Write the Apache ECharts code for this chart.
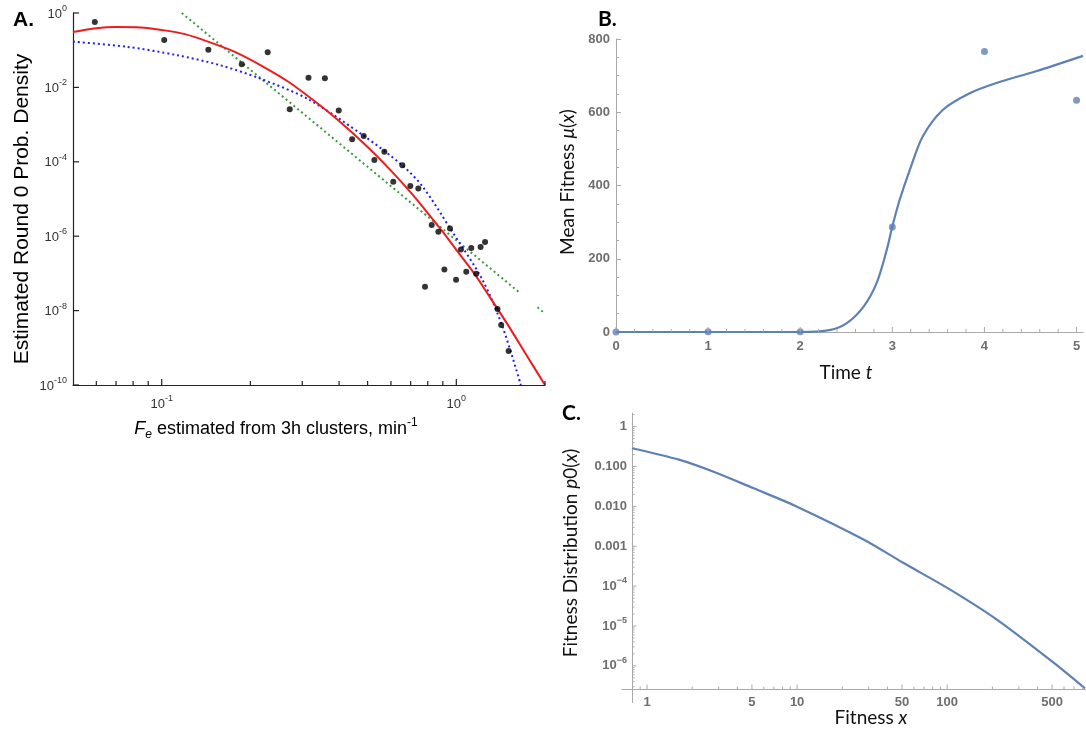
<!DOCTYPE html>
<html><head><meta charset="utf-8">
<script src="https://cdn.jsdelivr.net/npm/echarts@6.0.0/dist/echarts.min.js"></script>
<style>html,body{margin:0;padding:0;background:#fff}#c{width:1086px;height:731px}</style>
</head><body><div id="c"></div>
<script>
// ---------- Panel A data ----------
const A_POINT_X = [0.0593,0.102,0.144,0.187,0.229,0.272,0.315,0.358,0.399,0.443,0.485,0.527,0.570,0.611,0.656,0.698,0.743,0.825,0.869,0.952,1.037,1.124,1.209,1.252,0.911,1.081,1.168,0.998,0.783,1.38,1.42,1.505];
const A_POINT_Y = [0.57,0.188,0.103,0.0417,0.0877,0.00258,0.0182,0.0175,0.00240,4.05e-4,4.97e-4,1.12e-4,1.85e-4,2.9e-5,8.1e-5,2.25e-5,1.92e-5,2.0e-6,1.32e-6,1.62e-6,4.4e-7,4.8e-7,5.1e-7,7.0e-7,1.28e-7,1.11e-7,9.8e-8,6.8e-8,4.35e-8,1.11e-8,4.1e-9,8.2e-10];
const A_RED_X = [0.05,0.06,0.07,0.085,0.1,0.12,0.15,0.18,0.22,0.27,0.33,0.4,0.5,0.6,0.7,0.8,0.9,1.0,1.15,1.3,1.5,1.75,2.0];
const A_RED_Y = [0.31,0.39,0.42,0.41,0.35,0.27,0.15,0.085,0.037,0.014,4.3e-3,1.25e-3,2.5e-4,5.8e-5,1.5e-5,4.2e-6,1.3e-6,4.3e-7,1.0e-7,2.3e-8,4.0e-9,5.5e-10,1.0e-10];
const A_BLUE_X = [0.05,0.0759,0.112,0.157,0.215,0.313,0.485,0.656,0.769,0.954,1.228,1.435,1.656];
const A_BLUE_Y = [0.17,0.124,0.0743,0.04,0.0175,4.9e-3,5.0e-4,8.0e-5,2.14e-5,1.6e-6,6.6e-8,3.7e-9,1.0e-10];
const A_GREEN1_X = [0.117,1.635];
const A_GREEN1_Y = [1.0,3.1e-8];
const A_GREEN2_X = [1.886,2.0];
const A_GREEN2_Y = [1.23e-8,8.3e-9];
const A_X_MAJOR = [0.1,1];
const A_X_MINOR = [0.06,0.07,0.08,0.09,0.2,0.3,0.4,0.5,0.6,0.7,0.8,0.9,2];
const A_Y_MAJOR = [1,1e-2,1e-4,1e-6,1e-8,1e-10];
const A_Y_LABEL_EXP = [0,-2,-4,-6,-8,-10];

// ---------- Panel B data ----------
const B_T = [0,1,2,3,4,5];
const B_MU = [0,1,1,287,766,633];
const B_CURVE_T = [0,1,1.99,2.33,2.51,2.69,2.83,2.94,3.0,3.08,3.19,3.33,3.55,3.84,4.13,4.56,5.07];
const B_CURVE_MU = [0,0,0,6,25,70,134,225,288,361,443,534,607,652,680,712,754];
const B_X_LABELS = [0,1,2,3,4,5];

// ---------- Panel C data ----------
const C_X = [0.794,1.65,2.75,5.09,9.9,27.5,50.9,104,213,509,828];
const C_Y = [0.288,0.147,0.075,0.0288,0.01,0.0015,3.85e-4,8.3e-5,1.47e-5,1.22e-6,2.72e-7];
const C_X_LABELS = [1,5,10,50,100,500];
const C_X_MINOR = [0.8,0.9,2,3,4,6,7,8,9,20,30,40,60,70,80,90,200,300,400,600,700,800];
const C_Y_MAJOR = [1,0.1,0.01,0.001,1e-4,1e-5,1e-6];

// ---------- ranges ----------
const A_XMIN = 0.05, A_XMAX = 2, A_YMIN = 1e-10, A_YMAX = 1;
const B_XMIN = 0, B_XMAX = 5.07, B_YMIN = 0, B_YMAX = 800;
const C_XMIN = 0.794, C_XMAX = 841, C_YMIN = 2.63e-7, C_YMAX = 2.2;

const fA = '"Liberation Sans", Arial, sans-serif';
const fB = 'Lato, "Open Sans", sans-serif';
const fNum = '"Liberation Sans", Arial, sans-serif';
const grayAxis = '#a9a9a9';
const grayLabel = '#6e6e6e';
const blueM = '#5e81b5';

function zip(xs, ys){ return xs.map((x,i)=>[x, ys[i]]); }
function exp10(v){ const e = Math.log10(v); const r = Math.round(e); return Math.abs(e-r) < 1e-6 ? r : null; }

const B_X_MINOR = [];
for (let i = 1; i <= 25; i++) { const v = +(i*0.2).toFixed(1); if (Math.abs(v - Math.round(v)) > 1e-9 && v < B_XMAX) B_X_MINOR.push(v); }
const C_Y_MINOR = [];
for (let k = -7; k <= 0; k++) for (let m = 2; m <= 9; m++) { const v = m*Math.pow(10,k); if (v > C_YMIN && v < C_YMAX) C_Y_MINOR.push(v); }

function tickSeries(gi, dir, vals, anchor, len, color, width){
  return {
    type: 'custom', xAxisIndex: gi, yAxisIndex: gi, silent: true, clip: false, z: 6, animation: false,
    data: vals.map(v => dir === 'x' ? [v, anchor] : [anchor, v]),
    renderItem: (params, api) => {
      const p = api.coord([api.value(0), api.value(1)]);
      const shape = dir === 'x'
        ? {x1: p[0], y1: p[1], x2: p[0], y2: p[1] - len}
        : {x1: p[0], y1: p[1], x2: p[0] + len, y2: p[1]};
      return {type: 'line', shape: shape, style: {stroke: color, lineWidth: width}};
    }
  };
}

const chart = echarts.init(document.getElementById('c'), null, {renderer: 'canvas'});

const supRichA = {
  b: {fontSize: 13, fontFamily: fA, color: '#333', lineHeight: 20},
  s: {fontSize: 9, fontFamily: fA, color: '#333', verticalAlign: 'top'}
};
const supRichC = {
  b: {fontSize: 13, fontFamily: fNum, fontWeight: 'bold', color: grayLabel, lineHeight: 20},
  s: {fontSize: 9, fontFamily: fNum, fontWeight: 'bold', color: grayLabel, verticalAlign: 'top'}
};

const option = {
  animation: false,
  backgroundColor: '#fff',
  grid: [
    {left: 73, top: 13, width: 472, height: 372},
    {left: 616, top: 39, width: 470, height: 293},
    {left: 632, top: 413, width: 454, height: 276}
  ],
  xAxis: [
    {gridIndex: 0, type: 'log', logBase: 10, min: A_XMIN, max: A_XMAX,
     axisLine: {lineStyle: {color: '#222', width: 1.2}}, axisTick: {show: false}, splitLine: {show: false},
     axisLabel: {margin: 9, formatter: v => { const r = exp10(v); return r === null ? '' : '{b|10}{s|' + r + '}'; }, rich: supRichA}},
    {gridIndex: 1, type: 'value', min: B_XMIN, max: B_XMAX, interval: 1,
     axisLine: {lineStyle: {color: grayAxis, width: 1}}, axisTick: {show: false}, splitLine: {show: false},
     axisLabel: {margin: 8, color: grayLabel, fontFamily: fNum, fontWeight: 'bold', fontSize: 13,
       formatter: v => (Math.abs(v - Math.round(v)) < 1e-9 && B_X_LABELS.indexOf(Math.round(v)) >= 0) ? String(Math.round(v)) : ''}},
    {gridIndex: 2, type: 'log', logBase: 10, min: C_XMIN, max: C_XMAX,
     axisLine: {lineStyle: {color: grayAxis, width: 1}}, axisTick: {show: false}, splitLine: {show: false},
     axisLabel: {show: false}}
  ],
  yAxis: [
    {gridIndex: 0, type: 'log', logBase: 10, min: A_YMIN, max: A_YMAX,
     axisLine: {lineStyle: {color: '#222', width: 1.2}}, axisTick: {show: false}, splitLine: {show: false},
     axisLabel: {show: false}},
    {gridIndex: 1, type: 'value', min: B_YMIN, max: B_YMAX, interval: 200,
     axisLine: {show: true, lineStyle: {color: grayAxis, width: 1}},
     axisTick: {show: true, inside: true, length: 5, lineStyle: {color: grayAxis}},
     minorTick: {show: true, splitNumber: 4, length: 3, lineStyle: {color: grayAxis}},
     splitLine: {show: false},
     axisLabel: {margin: 6, color: grayLabel, fontFamily: fNum, fontWeight: 'bold', fontSize: 13}},
    {gridIndex: 2, type: 'log', logBase: 10, min: C_YMIN, max: C_YMAX, splitNumber: 8,
     axisLine: {show: true, lineStyle: {color: grayAxis, width: 1}}, axisTick: {show: false}, splitLine: {show: false},
     axisLabel: {margin: 5, color: grayLabel, fontFamily: fNum, fontWeight: 'bold', fontSize: 13, rich: supRichC,
       formatter: v => { const r = exp10(v); if (r === null || r > 0) return '';
         if (r === 0) return '1'; if (r === -1) return '0.100'; if (r === -2) return '0.010'; if (r === -3) return '0.001';
         return '{b|10}{s|\u2212' + (-r) + '}'; }}}
  ],
  graphic: [
    {type: 'text', x: 13, y: 20, style: {text: 'A.', font: 'bold 21px ' + fA, fill: '#000', align: 'left', verticalAlign: 'middle'}},
    {type: 'text', x: 598, y: 19, style: {text: 'B.', font: 'bold 21px ' + fB, fill: '#000', align: 'left', verticalAlign: 'middle'}},
    {type: 'text', x: 562, y: 413, style: {text: 'C.', font: 'bold 21px ' + fB, fill: '#000', align: 'left', verticalAlign: 'middle'}},
    {type: 'text', x: 22, y: 209, rotation: Math.PI/2,
     style: {text: 'Estimated Round 0 Prob. Density', font: '21px ' + fA, fill: '#000', align: 'center', verticalAlign: 'middle'}},
    {type: 'text', x: 276, y: 429,
     style: {text: '{i|F}{sub|e}{n| estimated from 3h clusters, min}{sup|-1}', align: 'center', verticalAlign: 'middle', fill: '#000', font: '18px ' + fA,
       rich: {
         i: {fontFamily: fA, fontSize: 18, fontStyle: 'italic', fill: '#000', lineHeight: 24},
         n: {fontFamily: fA, fontSize: 18, fill: '#000', lineHeight: 24},
         sub: {fontFamily: fA, fontSize: 12, fontStyle: 'italic', fill: '#000', verticalAlign: 'bottom'},
         sup: {fontFamily: fA, fontSize: 12, fill: '#000', verticalAlign: 'top'}
       }}},
    {type: 'text', x: 568, y: 182, rotation: Math.PI/2,
     style: {text: '{n|Mean Fitness }{i|\u03bc}{n|(}{i|x}{n|)}', align: 'center', verticalAlign: 'middle', fill: '#111', font: '19px ' + fB,
       rich: {n: {fontFamily: fB, fontSize: 19, fill: '#111'}, i: {fontFamily: fB, fontSize: 19, fontStyle: 'italic', fill: '#111'}}}},
    {type: 'text', x: 846, y: 373,
     style: {text: '{n|Time }{i|t}', align: 'center', verticalAlign: 'middle', fill: '#111', font: '19px ' + fB,
       rich: {n: {fontFamily: fB, fontSize: 19, fill: '#111'}, i: {fontFamily: fB, fontSize: 19, fontStyle: 'italic', fill: '#111'}}}},
    {type: 'text', x: 571, y: 553, rotation: Math.PI/2,
     style: {text: '{n|Fitness Distribution }{i|p}{n|0(}{i|x}{n|)}', align: 'center', verticalAlign: 'middle', fill: '#111', font: '19px ' + fB,
       rich: {n: {fontFamily: fB, fontSize: 19, fill: '#111'}, i: {fontFamily: fB, fontSize: 19, fontStyle: 'italic', fill: '#111'}}}},
    {type: 'text', x: 871, y: 718,
     style: {text: '{n|Fitness }{i|x}', align: 'center', verticalAlign: 'middle', fill: '#111', font: '19px ' + fB,
       rich: {n: {fontFamily: fB, fontSize: 19, fill: '#111'}, i: {fontFamily: fB, fontSize: 19, fontStyle: 'italic', fill: '#111'}}}},
    {type: 'line', shape: {x1: 621.5, y1: 689.5, x2: 632.5, y2: 689.5}, style: {stroke: grayAxis, lineWidth: 1}},
    {type: 'line', shape: {x1: 632.5, y1: 689.5, x2: 632.5, y2: 703}, style: {stroke: grayAxis, lineWidth: 1}}
  ],
  series: [
    // Panel A
    {type: 'line', xAxisIndex: 0, yAxisIndex: 0, data: zip(A_GREEN1_X, A_GREEN1_Y), showSymbol: false, symbol: 'none',
     lineStyle: {color: '#3c9a3c', width: 2, type: [2, 3]}, z: 2},
    {type: 'line', xAxisIndex: 0, yAxisIndex: 0, data: zip(A_GREEN2_X, A_GREEN2_Y), showSymbol: false, symbol: 'none',
     lineStyle: {color: '#3c9a3c', width: 2, type: [2, 3]}, z: 2},
    {type: 'line', xAxisIndex: 0, yAxisIndex: 0, data: zip(A_BLUE_X, A_BLUE_Y), showSymbol: false, symbol: 'none', smooth: 0.3,
     lineStyle: {color: '#2020ee', width: 2, type: [2, 3]}, z: 3},
    {type: 'line', xAxisIndex: 0, yAxisIndex: 0, data: zip(A_RED_X, A_RED_Y), showSymbol: false, symbol: 'none', smooth: 0.3,
     lineStyle: {color: '#ee1c1c', width: 2}, z: 4},
    {type: 'scatter', xAxisIndex: 0, yAxisIndex: 0, data: zip(A_POINT_X, A_POINT_Y), symbol: 'circle', symbolSize: 6,
     itemStyle: {color: '#000'}, z: 5},
    tickSeries(0, 'x', A_X_MAJOR, A_YMIN, 6, '#222', 1.2),
    tickSeries(0, 'x', A_X_MINOR, A_YMIN, 4, '#222', 1.2),
    tickSeries(0, 'y', A_Y_MAJOR, A_XMIN, 6, '#222', 1.2),
    {type: 'custom', xAxisIndex: 0, yAxisIndex: 0, silent: true, clip: false, z: 6, animation: false,
     data: A_Y_MAJOR.map((v, i) => [A_XMIN, v, A_Y_LABEL_EXP[i]]),
     renderItem: (params, api) => {
       const p = api.coord([api.value(0), api.value(1)]);
       return {type: 'text', x: p[0] - 6, y: p[1] + 1,
         style: {text: '{b|10}{s|' + api.value(2) + '}', align: 'right', verticalAlign: 'middle',
           rich: {b: {fontSize: 13, fontFamily: fA, fill: '#333', lineHeight: 20},
                  s: {fontSize: 9, fontFamily: fA, fill: '#333', verticalAlign: 'top'}}}};
     }},
    // Panel B
    {type: 'line', xAxisIndex: 1, yAxisIndex: 1, data: zip(B_CURVE_T, B_CURVE_MU), showSymbol: false, symbol: 'none', smooth: 0.3,
     lineStyle: {color: blueM, width: 2.2}, z: 3},
    {type: 'scatter', xAxisIndex: 1, yAxisIndex: 1, data: zip(B_T, B_MU), symbol: 'circle', symbolSize: 7,
     itemStyle: {color: blueM}, z: 4},
    tickSeries(1, 'x', B_X_LABELS, B_YMIN, 5, grayAxis, 1),
    tickSeries(1, 'x', B_X_MINOR, B_YMIN, 3, grayAxis, 1),
    // Panel C
    {type: 'line', xAxisIndex: 2, yAxisIndex: 2, data: zip(C_X, C_Y), showSymbol: false, symbol: 'none', smooth: 0.3,
     lineStyle: {color: blueM, width: 2.2}, z: 3},
    tickSeries(2, 'x', C_X_LABELS, C_YMIN, 4.5, grayAxis, 1),
    tickSeries(2, 'x', C_X_MINOR, C_YMIN, 2.5, grayAxis, 1),
    tickSeries(2, 'y', C_Y_MAJOR, C_XMIN, 4.5, grayAxis, 1),
    tickSeries(2, 'y', C_Y_MINOR, C_XMIN, 2.5, grayAxis, 1),
    {type: 'custom', xAxisIndex: 2, yAxisIndex: 2, silent: true, clip: false, z: 6, animation: false,
     data: C_X_LABELS.map(v => [v, C_YMIN]),
     renderItem: (params, api) => {
       const p = api.coord([api.value(0), api.value(1)]);
       return {type: 'text', x: p[0], y: p[1] + 7,
         style: {text: String(api.value(0)), align: 'center', verticalAlign: 'top', font: 'bold 13px ' + fNum, fill: grayLabel}};
     }}
  ]
};
chart.setOption(option);
</script>
</body></html>
